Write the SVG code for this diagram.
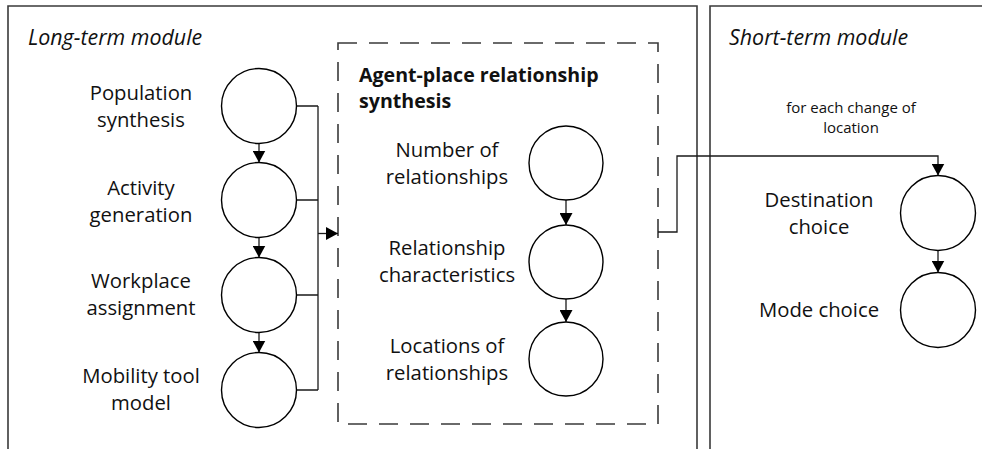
<svg xmlns="http://www.w3.org/2000/svg" width="982" height="449" viewBox="0 0 982 449">
<defs>
<style>
.box{fill:none;stroke:#3a3a3a;stroke-width:1.6}
.dash{fill:none;stroke:#3a3a3a;stroke-width:1.6;stroke-dasharray:19 12}
.node{fill:#fff;stroke:#000;stroke-width:1.4}
.lbl{font-family:"Open Sans","Liberation Sans",sans-serif;font-size:20.3px;fill:#111;text-anchor:middle}
.mod{font-family:"Open Sans","Liberation Sans",sans-serif;font-size:21.4px;font-style:italic;fill:#111}
.ttl{font-family:"Open Sans","Liberation Sans",sans-serif;font-size:19.6px;font-weight:bold;fill:#111}
.sm{font-family:"Open Sans","Liberation Sans",sans-serif;font-size:15px;fill:#111;text-anchor:middle}
.con{fill:none;stroke:#1a1a1a;stroke-width:1.3}
</style>
<marker id="arr" markerUnits="userSpaceOnUse" markerWidth="13" markerHeight="13" refX="12" refY="6.5" orient="auto">
<path d="M0,0 L12,6.5 L0,13 z" fill="#000"/>
</marker>
</defs>
<rect width="982" height="449" fill="#fff"/>

<g id="long-term-module">
<path class="box" d="M8,449 V6 H697 V449"/>
<text class="mod" x="28" y="45">Long-term module</text>
</g>
<g id="short-term-module">
<path class="box" d="M710,449 V6 H982"/>
<text class="mod" x="729" y="45">Short-term module</text>
<text class="sm" x="851" y="113">for each change of</text>
<text class="sm" x="851" y="133">location</text>
</g>
<g id="agent-place-synthesis">
<rect class="dash" x="338" y="43" width="320" height="381"/>
<text class="ttl" x="359" y="82">Agent-place relationship</text>
<text class="ttl" x="359" y="108">synthesis</text>
</g>

<g id="connectors">
<line class="con" x1="259" y1="143.5" x2="259" y2="162.5" marker-end="url(#arr)"/>
<line class="con" x1="259" y1="237.5" x2="259" y2="257.5" marker-end="url(#arr)"/>
<line class="con" x1="259" y1="332.5" x2="259" y2="352.5" marker-end="url(#arr)"/>
<path class="con" d="M296.5,106 H318 M296.5,200 H318 M296.5,295 H318 M296.5,390 H318 M318,106 V390"/>
<line class="con" x1="318" y1="233.5" x2="338" y2="233.5" marker-end="url(#arr)"/>
<line class="con" x1="566" y1="200" x2="566" y2="225" marker-end="url(#arr)"/>
<line class="con" x1="566" y1="299" x2="566" y2="322" marker-end="url(#arr)"/>
<path class="con" d="M658,232 H677 V156 H938 V175.5" marker-end="url(#arr)"/>
<line class="con" x1="938" y1="250.5" x2="938" y2="272.5" marker-end="url(#arr)"/>
</g>

<g id="population-synthesis">
<circle class="node" cx="259" cy="106" r="37.5"/>
<text class="lbl" x="141" y="100">Population</text>
<text class="lbl" x="141" y="127">synthesis</text>
</g>
<g id="activity-generation">
<circle class="node" cx="259" cy="200" r="37.5"/>
<text class="lbl" x="141" y="195">Activity</text>
<text class="lbl" x="141" y="222">generation</text>
</g>
<g id="workplace-assignment">
<circle class="node" cx="259" cy="295" r="37.5"/>
<text class="lbl" x="141" y="288">Workplace</text>
<text class="lbl" x="141" y="315">assignment</text>
</g>
<g id="mobility-tool-model">
<circle class="node" cx="259" cy="390" r="37.5"/>
<text class="lbl" x="141" y="383">Mobility tool</text>
<text class="lbl" x="141" y="410">model</text>
</g>

<g id="number-of-relationships">
<circle class="node" cx="566" cy="163" r="37"/>
<text class="lbl" x="447" y="157">Number of</text>
<text class="lbl" x="447" y="184">relationships</text>
</g>
<g id="relationship-characteristics">
<circle class="node" cx="566" cy="262" r="37"/>
<text class="lbl" x="447" y="255">Relationship</text>
<text class="lbl" x="447" y="282">characteristics</text>
</g>
<g id="locations-of-relationships">
<circle class="node" cx="566" cy="359" r="37"/>
<text class="lbl" x="447" y="353">Locations of</text>
<text class="lbl" x="447" y="380">relationships</text>
</g>

<g id="destination-choice">
<circle class="node" cx="938" cy="213" r="37.5"/>
<text class="lbl" x="819" y="207">Destination</text>
<text class="lbl" x="819" y="234">choice</text>
</g>
<g id="mode-choice">
<circle class="node" cx="938" cy="310" r="37.5"/>
<text class="lbl" x="819" y="317">Mode choice</text>
</g>
</svg>
